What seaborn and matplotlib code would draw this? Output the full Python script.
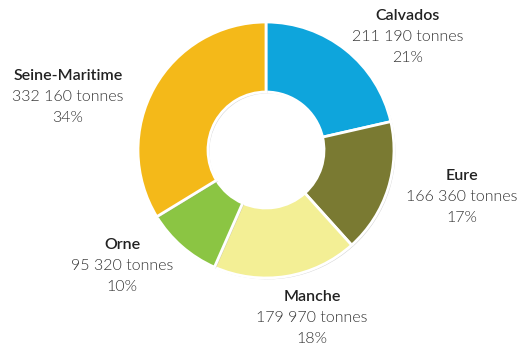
import matplotlib
matplotlib.use("Agg")
import matplotlib.pyplot as plt
import matplotlib.patheffects as pe
import seaborn as sns

departements = ["Calvados", "Eure", "Manche", "Orne", "Seine-Maritime"]
tonnes = [211190, 166360, 179970, 95320, 332160]
pourcent_labels = ["21%", "17%", "18%", "10%", "34%"]
tonnes_labels = ["211 190 tonnes", "166 360 tonnes", "179 970 tonnes", "95 320 tonnes", "332 160 tonnes"]
couleurs = ["#0EA5DC", "#7A7A32", "#F3EF95", "#8BC543", "#F4B919"]

sns.set_theme(style="white")
plt.rcParams['font.family'] = ['Lato', 'DejaVu Sans']

fig = plt.figure(figsize=(5.28, 3.5), dpi=100)
ax = fig.add_axes([0, 0, 1, 1])

wedges, _ = ax.pie(tonnes, colors=couleurs, startangle=90, counterclock=False,
                   center=(266, 200), radius=128, frame=True,
                   wedgeprops=dict(width=128 - 58, edgecolor='white', linewidth=2))
for w in wedges:
    w.set_path_effects([pe.SimplePatchShadow(offset=(1, -1), shadow_rgbFace='#999999', alpha=0.4), pe.Normal()])
ax.set_xlim(0, 528)
ax.set_ylim(0, 350)
ax.set_aspect('equal')
ax.axis('off')

# label positions (pixel coords from top)
label_pos = [(408, 16), (462, 176), (312, 297), (122, 245), (68, 76)]
for name, tl, pl, (x, y) in zip(departements, tonnes_labels, pourcent_labels, label_pos):
    ax.text(x, 350 - y, name, ha='center', va='center', fontsize=11.5, color='#222222', fontweight='semibold')
    ax.text(x, 350 - y - 21, tl, ha='center', va='center', fontsize=11.5, color='#333333', fontweight=300)
    ax.text(x, 350 - y - 42, pl, ha='center', va='center', fontsize=11.5, color='#333333', fontweight=300)

fig.savefig("out.png", dpi=100)
